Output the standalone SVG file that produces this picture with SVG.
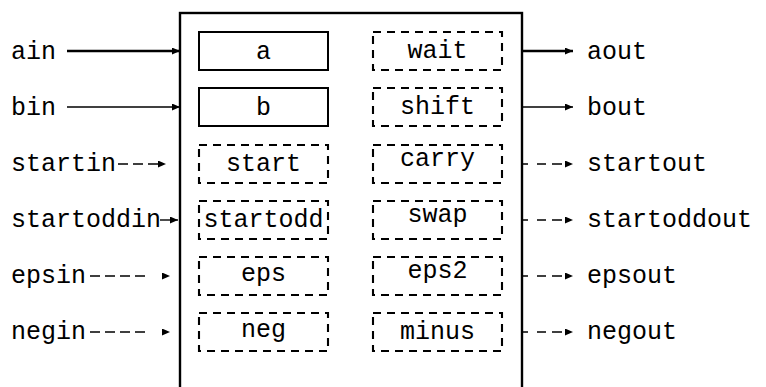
<svg xmlns="http://www.w3.org/2000/svg" width="766" height="387" viewBox="0 0 766 387">
<style>
text{font-family:"Liberation Mono","DejaVu Sans Mono",monospace;font-size:25px;fill:#000}
.lab{text-anchor:start}
.mid{text-anchor:middle}
.box{fill:#fff;stroke:#000;stroke-width:2}
.dbox{fill:#fff;stroke:#000;stroke-width:2.1;stroke-dasharray:8 6}
.thick{stroke:#000;stroke-width:2.4;fill:none}
.thin{stroke:#000;stroke-width:1.4;fill:none}
.dash{stroke:#000;stroke-width:1.5;fill:none}
</style>
<defs>
<marker id="ah" markerUnits="userSpaceOnUse" markerWidth="10" markerHeight="8" refX="8" refY="3.5" orient="auto">
<path d="M0,0 L8,3.5 L0,7 z" fill="#000" stroke="none"/>
</marker>
</defs>
<rect id="main" x="180" y="13" width="342" height="420" fill="#fff" stroke="#000" stroke-width="2.4"/>
<g id="connectors">
<line class="thick" x1="67" y1="51" x2="180" y2="51" marker-end="url(#ah)"/>
<line class="thin" x1="67" y1="107" x2="180" y2="107" marker-end="url(#ah)"/>
<line class="dash" x1="118" y1="164" x2="166" y2="164" stroke-dasharray="10 5 10 5 10 8" marker-end="url(#ah)"/>
<line class="thin" x1="160" y1="220" x2="178" y2="220" marker-end="url(#ah)"/>
<line class="dash" x1="90" y1="276" x2="170" y2="276" stroke-dasharray="10 5 10 5 10 5 10 25" marker-end="url(#ah)"/>
<line class="dash" x1="90" y1="332" x2="170" y2="332" stroke-dasharray="10 5 10 5 10 5 10 25" marker-end="url(#ah)"/>
<line class="thick" x1="522" y1="51" x2="573" y2="51" marker-end="url(#ah)"/>
<line class="thin" x1="522" y1="107" x2="573" y2="107" marker-end="url(#ah)"/>
<line class="dash" x1="522" y1="164" x2="573" y2="164" stroke-dasharray="6 9 9 6 10 11" marker-end="url(#ah)"/>
<line class="dash" x1="522" y1="220" x2="573" y2="220" stroke-dasharray="6 9 9 6 10 11" marker-end="url(#ah)"/>
<line class="dash" x1="522" y1="276" x2="573" y2="276" stroke-dasharray="6 9 9 6 10 11" marker-end="url(#ah)"/>
<line class="dash" x1="522" y1="332" x2="573" y2="332" stroke-dasharray="6 9 9 6 10 11" marker-end="url(#ah)"/>
</g>
<g id="ain"><text class="lab" x="11" y="59">ain</text></g>
<g id="bin"><text class="lab" x="11" y="115">bin</text></g>
<g id="startin"><text class="lab" x="11" y="171">startin</text></g>
<g id="startoddin"><text class="lab" x="11" y="227">startoddin</text></g>
<g id="epsin"><text class="lab" x="11" y="283">epsin</text></g>
<g id="negin"><text class="lab" x="11" y="339">negin</text></g>
<g id="a"><rect class="box" x="199" y="32" width="129" height="38"/><text class="mid" x="263.5" y="59">a</text></g>
<g id="b"><rect class="box" x="199" y="88" width="129" height="38"/><text class="mid" x="263.5" y="115">b</text></g>
<g id="start"><rect class="dbox" x="199" y="145" width="129" height="38"/><text class="mid" x="263.5" y="171">start</text></g>
<g id="startodd"><rect class="dbox" x="199" y="201" width="129" height="38"/><text class="mid" x="263.5" y="227">startodd</text></g>
<g id="eps"><rect class="dbox" x="199" y="257" width="129" height="38"/><text class="mid" x="263.5" y="281">eps</text></g>
<g id="neg"><rect class="dbox" x="199" y="313" width="129" height="38"/><text class="mid" x="263.5" y="337">neg</text></g>
<g id="wait"><rect class="dbox" x="373" y="32" width="129" height="38"/><text class="mid" x="437.5" y="58">wait</text></g>
<g id="shift"><rect class="dbox" x="373" y="88" width="129" height="38"/><text class="mid" x="437.5" y="114">shift</text></g>
<g id="carry"><rect class="dbox" x="373" y="145" width="129" height="38"/><text class="mid" x="437.5" y="166">carry</text></g>
<g id="swap"><rect class="dbox" x="373" y="201" width="129" height="38"/><text class="mid" x="437.5" y="222">swap</text></g>
<g id="eps2"><rect class="dbox" x="373" y="257" width="129" height="38"/><text class="mid" x="437.5" y="278">eps2</text></g>
<g id="minus"><rect class="dbox" x="373" y="313" width="129" height="38"/><text class="mid" x="437.5" y="339">minus</text></g>
<g id="aout"><text class="lab" x="587" y="59">aout</text></g>
<g id="bout"><text class="lab" x="587" y="115">bout</text></g>
<g id="startout"><text class="lab" x="587" y="171">startout</text></g>
<g id="startoddout"><text class="lab" x="587" y="227">startoddout</text></g>
<g id="epsout"><text class="lab" x="587" y="283">epsout</text></g>
<g id="negout"><text class="lab" x="587" y="339">negout</text></g>
</svg>
